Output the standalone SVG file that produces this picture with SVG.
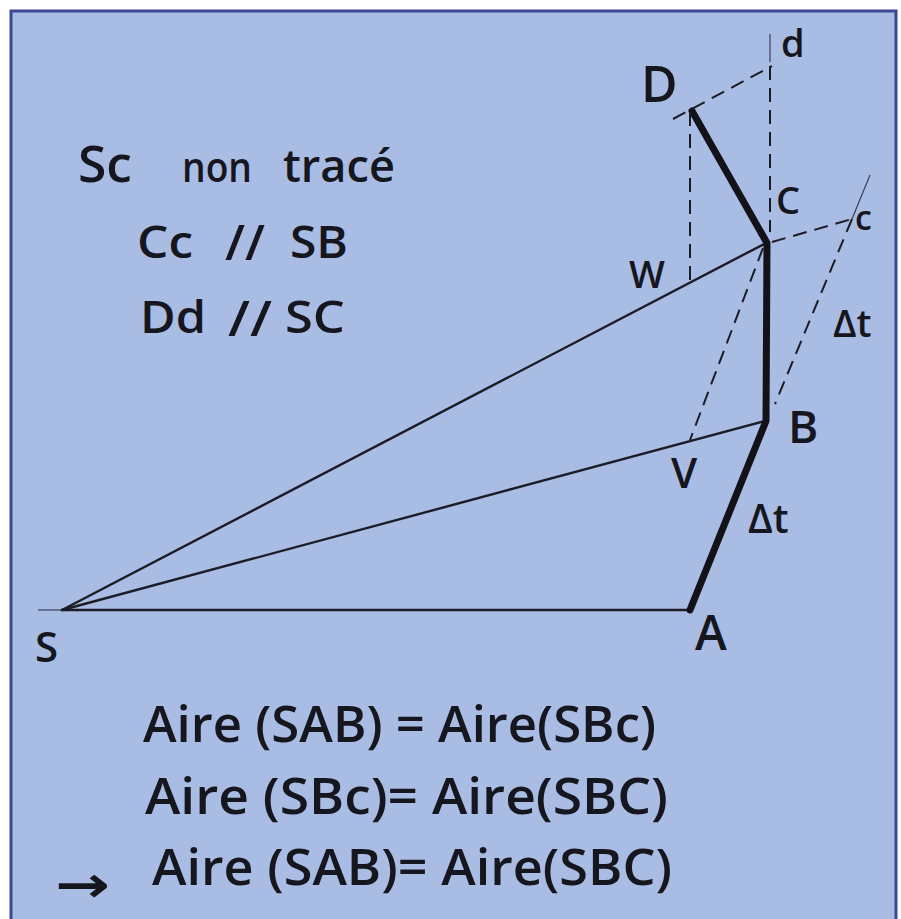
<svg xmlns="http://www.w3.org/2000/svg" width="901" height="919" viewBox="0 0 901 919">
<style>
.t{font-family:"Open Sans","Liberation Sans",sans-serif;font-weight:600;fill:#16161e}
.ar{font-family:"DejaVu Sans",sans-serif;font-weight:bold;fill:#16161e}
.thin{stroke:#1c1c26;stroke-width:2.4;fill:none;stroke-linecap:round}
.thick{stroke:#121218;stroke-width:7;fill:none;stroke-linejoin:round;stroke-linecap:round}
.dash{stroke:#1c1c26;stroke-width:2;fill:none;stroke-dasharray:14 8}
.faint{stroke:#3a3f5a;stroke-width:1.2;fill:none}
</style>
<rect x="0" y="0" width="901" height="919" fill="#ffffff"/>
<rect x="11" y="11" width="885" height="912" fill="#a9bce4" stroke="#3b4796" stroke-width="3"/>
<g id="connectors">
<line class="faint" x1="38" y1="610" x2="62" y2="610"/>
<line class="thin" x1="62" y1="610" x2="690" y2="610"/>
<line class="thin" x1="62" y1="610" x2="765" y2="421"/>
<line class="thin" x1="62" y1="610" x2="766" y2="243"/>
<polyline class="thick" points="690,610 766,421 767,243 692,111"/>
<line class="dash" x1="690" y1="112" x2="690" y2="280"/>
<line class="dash" x1="673" y1="119" x2="772" y2="66"/>
<line class="faint" x1="770" y1="34" x2="770" y2="62"/>
<line class="dash" x1="770" y1="66" x2="770" y2="232"/>
<line class="dash" x1="772" y1="242" x2="852" y2="219"/>
<line class="faint" x1="852" y1="219" x2="870" y2="175"/>
<line class="dash" x1="852" y1="219" x2="775" y2="404"/>
<line class="dash" x1="763" y1="248" x2="690" y2="440"/>
</g>
<g id="node-S"><text class="t" x="35" y="662" font-size="42">S</text></g>
<g id="node-A"><text class="t" x="695" y="650" font-size="48">A</text></g>
<g id="node-B"><text class="t" x="788" y="443" font-size="46">B</text></g>
<g id="node-C"><text class="t" x="776" y="214" font-size="38">C</text></g>
<g id="node-D"><text class="t" x="641" y="102" font-size="50">D</text></g>
<g id="node-c"><text class="t" x="855" y="230" font-size="34">c</text></g>
<g id="node-d"><text class="t" x="781" y="57" font-size="38">d</text></g>
<g id="node-W"><text class="t" x="629" y="288" font-size="38">W</text></g>
<g id="node-V"><text class="t" x="671" y="488" font-size="42">V</text></g>
<g id="labels-dt">
<text class="t" x="748" y="533" font-size="40">Δt</text>
<text class="t" x="833" y="337" font-size="38">Δt</text>
</g>
<g id="notes">
<text class="t" x="78" y="182" font-size="50" textLength="54" lengthAdjust="spacingAndGlyphs">Sc</text>
<text class="t" x="182" y="182" font-size="42" textLength="70" lengthAdjust="spacingAndGlyphs">non</text>
<text class="t" x="283" y="182" font-size="46" textLength="112" lengthAdjust="spacingAndGlyphs">tracé</text>
<text class="t" x="137" y="258" font-size="46" textLength="56" lengthAdjust="spacingAndGlyphs">Cc</text>
<text class="t" x="225" y="260" font-size="48" textLength="40" lengthAdjust="spacingAndGlyphs">//</text>
<text class="t" x="290" y="258" font-size="46" textLength="58" lengthAdjust="spacingAndGlyphs">SB</text>
<text class="t" x="140" y="333" font-size="46" textLength="66" lengthAdjust="spacingAndGlyphs">Dd</text>
<text class="t" x="228" y="336" font-size="48" textLength="44" lengthAdjust="spacingAndGlyphs">//</text>
<text class="t" x="285" y="333" font-size="46" textLength="60" lengthAdjust="spacingAndGlyphs">SC</text>
</g>
<g id="equations">
<text class="t" x="143" y="742" font-size="50" textLength="513" lengthAdjust="spacingAndGlyphs">Aire (SAB) = Aire(SBc)</text>
<text class="t" x="145" y="814" font-size="50" textLength="523" lengthAdjust="spacingAndGlyphs">Aire (SBc)= Aire(SBC)</text>
<text class="t" x="152" y="885" font-size="50" textLength="520" lengthAdjust="spacingAndGlyphs">Aire (SAB)= Aire(SBC)</text>
<text class="ar" x="55" y="902" font-size="50" textLength="55" lengthAdjust="spacingAndGlyphs">→</text>
</g>
</svg>
